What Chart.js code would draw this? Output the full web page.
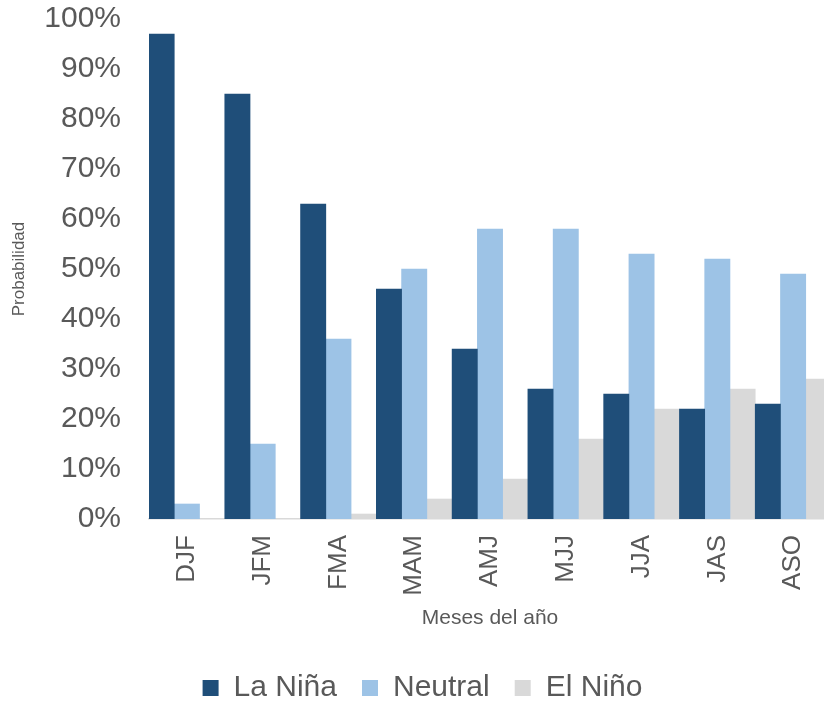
<!DOCTYPE html>
<html>
<head>
<meta charset="utf-8">
<script src="https://cdn.jsdelivr.net/npm/chart.js@4/dist/chart.umd.min.js"></script>
<style>
html, body { margin: 0; padding: 0; overflow: hidden; background: #ffffff; }
#wrap { position: absolute; left: 0; top: 0; width: 831px; height: 713px; }
</style>
</head>
<body>
<div id="wrap"><canvas id="c" width="831" height="713"></canvas></div>
<script>
const categories = ["DJF", "JFM", "FMA", "MAM", "AMJ", "MJJ", "JJA", "JAS", "ASO"];
const laNina  = [97, 85, 63, 46, 34, 26, 25, 22, 23];
const neutral = [3, 15, 36, 50, 58, 58, 53, 52, 49];
const elNino  = [0, 0, 1, 4, 8, 16, 22, 26, 28];
const seriesNames = ["La Niña", "Neutral", "El Niño"];
const yTicks = [0, 10, 20, 30, 40, 50, 60, 70, 80, 90, 100];
const xTitle = "Meses del año";
const yTitle = "Probabilidad";

const textColor = "#595959";
const fontFamily = "'Liberation Sans', Arial, sans-serif";

const legendShift = {
  id: 'legendShift',
  afterLayout(chart) {
    if (chart.legend) { chart.legend.left += 7; chart.legend.right += 7; }
  }
};

new Chart(document.getElementById('c'), {
  type: 'bar',
  data: {
    labels: categories,
    datasets: [
      { label: seriesNames[0], data: laNina,  backgroundColor: '#1f4e79' },
      { label: seriesNames[1], data: neutral, backgroundColor: '#9dc3e6' },
      { label: seriesNames[2], data: elNino,  backgroundColor: '#d9d9d9' }
    ]
  },
  options: {
    responsive: false,
    animation: false,
    events: [],
    layout: { padding: { top: 0, left: 0, right: 0, bottom: 0 } },
    datasets: { bar: { categoryPercentage: 1.0, barPercentage: 1.0, borderWidth: 0 } },
    plugins: {
      tooltip: { enabled: false },
      legend: {
        position: 'bottom',
        labels: {
          boxWidth: 16, boxHeight: 16, padding: 25,
          color: textColor,
          font: { family: fontFamily, size: 30 }
        }
      }
    },
    scales: {
      x: {
        grid: { display: false, drawTicks: false },
        border: { display: true, color: '#d9d9d9', width: 1.5 },
        ticks: {
          color: textColor, minRotation: 90, maxRotation: 90, padding: 16,
          autoSkip: false,
          font: { family: fontFamily, size: 26 }
        },
        title: {
          display: true, text: xTitle, color: textColor,
          font: { family: fontFamily, size: 21 },
          padding: { top: 0, bottom: 17 }
        },
        afterFit(s) { s.height = 129; s.paddingLeft = 0; s.paddingRight = 0; }
      },
      y: {
        min: 0, max: 100,
        afterBuildTicks(s) { s.ticks = yTicks.map(v => ({ value: v })); },
        grid: { display: false, drawTicks: false },
        border: { display: false },
        ticks: {
          color: textColor, padding: 28,
          font: { family: fontFamily, size: 30 },
          callback: v => v + '%'
        },
        title: {
          display: true, text: yTitle, color: textColor,
          font: { family: fontFamily, size: 17 },
          padding: { top: 9, bottom: 0 }
        },
        afterFit(s) { s.width = 149; s.paddingTop = 19; s.paddingBottom = 0; }
      }
    }
  },
  plugins: [legendShift]
});
</script>
</body>
</html>
